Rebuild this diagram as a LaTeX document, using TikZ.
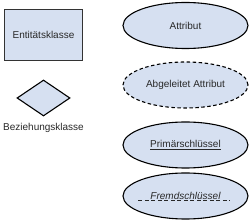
\documentclass[tikz,border=0pt]{standalone}
\usepackage{fontspec}
\setmainfont{Liberation Sans}
\usepackage{tikz}
\usetikzlibrary{positioning,shapes.geometric,calc}

\definecolor{erfill}{RGB}{214,224,241}
\definecolor{ertext}{RGB}{40,40,40}

\tikzset{
  erbase/.style={fill=erfill, draw=black, line width=1.1pt, text=ertext,
    font=\fontsize{10}{12}\selectfont, inner sep=0pt},
  entity/.style={erbase, draw=black!80, rectangle, minimum width=78pt, minimum height=51pt},
  relship/.style={erbase, diamond, minimum width=53pt, minimum height=36pt},
  attrib/.style={erbase, ellipse, minimum width=125pt, minimum height=46pt},
  plainlabel/.style={text=ertext, font=\fontsize{10}{12}\selectfont, inner sep=0pt}
}

\begin{document}
\begin{tikzpicture}[x=1pt, y=-1pt]
  \useasboundingbox (0,0) rectangle (250,221);

  % left column
  \node[entity] (ent) at (43.5,35) {Entitätsklasse};
  \node[relship] (rel) at (43.5,98) {};
  \node[plainlabel, below=7pt of rel] (rellabel) {Beziehungsklasse};

  % right column: attribute kinds
  \node[attrib] (attr) at (185.5,25.5) {Attribut};
  \node[attrib, dash pattern=on 3.5pt off 2.5pt] (derived) at (185.5,85) {Abgeleitet Attribut};
  \node[attrib] (pkey) at (185.5,145) {\underline{Primärschlüssel}};
  \node[attrib] (fkey) at (185.5,196) {\itshape Fremdschlüssel};

  % dashed underline of the foreign key
  \draw[ertext, line width=0.6pt, dash pattern=on 4pt off 2.5pt]
    ($(fkey.center)+(-47,4.5)$) -- ($(fkey.center)+(45,4.5)$);
\end{tikzpicture}
\end{document}
